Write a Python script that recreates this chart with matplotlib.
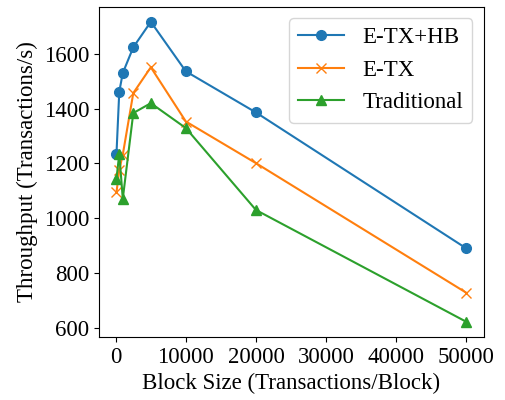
import numpy as np
import matplotlib
matplotlib.use('Agg')
import matplotlib.pyplot as plt

plt.rcParams['font.family'] = ['Liberation Serif', 'DejaVu Serif']

# Block sizes and measured throughput
block_size = [100, 500, 1000, 2500, 5000, 10000, 20000, 50000]
etx_hb = [1235, 1462, 1530, 1624, 1717, 1536, 1386, 890]
etx = [1094, 1177, 1232, 1457, 1551, 1353, 1201, 728]
traditional = [1144, 1235, 1071, 1384, 1420, 1329, 1030, 622]

fig = plt.figure(figsize=(5.05, 4.0), dpi=100)
ax = fig.add_axes([0.196, 0.158, 0.762, 0.825])

ax.plot(block_size, etx_hb, '-o', color='#1f77b4', linewidth=1.5, markersize=7, label='E-TX+HB')
ax.plot(block_size, etx, '-x', color='#ff7f0e', linewidth=1.5, markersize=7, label='E-TX')
ax.plot(block_size, traditional, '-^', color='#2ca02c', linewidth=1.5, markersize=7, label='Traditional')

ax.set_xlabel('Block Size (Transactions/Block)', fontsize=16.5)
ax.set_ylabel('Throughput (Transactions/s)', fontsize=16.5)
ax.set_xticks([0, 10000, 20000, 30000, 40000, 50000])
ax.set_yticks([600, 800, 1000, 1200, 1400, 1600])
ax.tick_params(labelsize=16.5)
ax.legend(fontsize=16.5, loc='upper right')

fig.savefig('out.png', dpi=100)
